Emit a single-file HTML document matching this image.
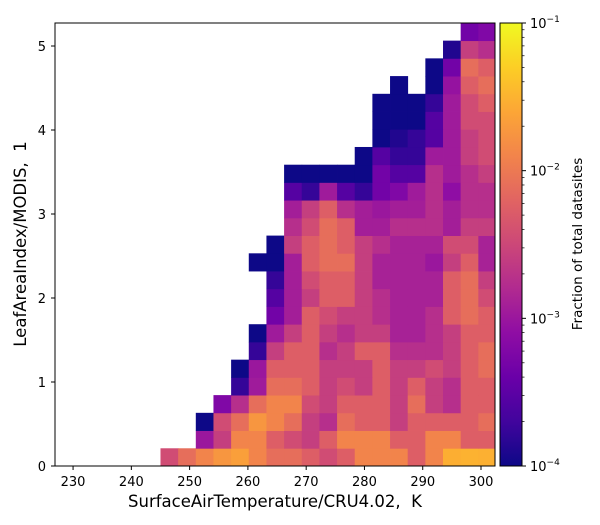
<!DOCTYPE html>
<html><head><meta charset="utf-8"><style>
html,body{margin:0;padding:0;background:#fff;}
svg{display:block;font-family:"DejaVu Sans","Liberation Sans",sans-serif;}
</style></head><body>
<svg id="chart" width="600" height="525" viewBox="0 0 600 525" xmlns="http://www.w3.org/2000/svg">
<defs>
<linearGradient id="plasma" x1="0" y1="1" x2="0" y2="0">
<stop offset="0" stop-color="#0d0887"/><stop offset="0.1" stop-color="#41049d"/><stop offset="0.2" stop-color="#6a00a8"/><stop offset="0.3" stop-color="#8f0da4"/><stop offset="0.4" stop-color="#b12a90"/><stop offset="0.5" stop-color="#cc4778"/><stop offset="0.6" stop-color="#e16462"/><stop offset="0.7" stop-color="#f2844b"/><stop offset="0.8" stop-color="#fca636"/><stop offset="0.9" stop-color="#fcce25"/><stop offset="1" stop-color="#f0f921"/>
</linearGradient>
<clipPath id="plotclip"><rect x="55" y="23" width="440" height="443"/></clipPath>
</defs>
<g id="cells" clip-path="url(#plotclip)"></g>
<rect x="55" y="23" width="440" height="443" fill="none" stroke="#000" stroke-width="1"/>
<g id="xticks"></g>
<g id="yticks"></g>
<text x="275" y="507" font-size="16.5" text-anchor="middle" xml:space="preserve">SurfaceAirTemperature/CRU4.02,  K</text>
<text transform="translate(26,244) rotate(-90)" font-size="16.5" text-anchor="middle" xml:space="preserve">LeafAreaIndex/MODIS,  1</text>
<rect x="500" y="23" width="22" height="443" fill="url(#plasma)" stroke="#000" stroke-width="1"/>
<g id="cbticks"></g>
<text transform="translate(582,244) rotate(-90)" font-size="13.5" text-anchor="middle">Fraction of total datasites</text>
</svg>
<script>
const xTickValues = [230, 240, 250, 260, 270, 280, 290, 300];
const yTickValues = [0, 1, 2, 3, 4, 5];
const cbarExponents = [-4, -3, -2, -1];
const xBinStart = 245;
const xBinWidth = 3.03;
const yBinWidth = 0.211;
const _ = null;
// Fraction of total datasites, rows from LAI bin 0 (bottom) upward, cols from 245 K
const row0  = [0.0036,0.0078,0.0126,0.018,0.022,0.0126,0.0078,0.0078,0.0055,0.0036,0.0055,0.0126,0.0126,0.0126,0.0055,0.0126,0.029,0.031,0.03];
const row1  = [_,_,0.001,0.0026,0.0126,0.0126,0.0055,0.0036,0.0026,0.0055,0.0126,0.0126,0.0126,0.0055,0.0055,0.0126,0.0126,0.0055,0.0055];
const row2  = [_,_,0.0001,0.0036,0.0078,0.018,0.0126,0.0078,0.0026,0.0018,0.0078,0.0055,0.0055,0.0026,0.0055,0.0055,0.0055,0.0055,0.0078];
const row3  = [_,_,_,0.0006,0.0018,0.0078,0.0126,0.0126,0.0036,0.0026,0.0055,0.0055,0.0055,0.0026,0.0078,0.0026,0.0018,0.0055,0.0055];
const row4  = [_,_,_,_,0.00017,0.0011,0.0078,0.0078,0.0055,0.0026,0.0036,0.0026,0.0055,0.0026,0.0055,0.0026,0.0018,0.0055,0.0055];
const row5  = [_,_,_,_,0.0001,0.001,0.0055,0.0055,0.0055,0.0026,0.0026,0.0026,0.0055,0.0026,0.0026,0.0036,0.0026,0.0055,0.0078];
const row6  = [_,_,_,_,_,0.00017,0.0026,0.0055,0.0055,0.0018,0.0026,0.0055,0.0055,0.0018,0.0018,0.0018,0.0026,0.0055,0.0078];
const row7  = [_,_,_,_,_,0.0001,0.0011,0.0026,0.0055,0.0026,0.0018,0.0026,0.0026,0.0013,0.0013,0.0018,0.0026,0.0055,0.0055];
const row8  = [_,_,_,_,_,_,0.00046,0.0012,0.0055,0.0036,0.0026,0.0026,0.0018,0.0013,0.0013,0.0018,0.0055,0.0078,0.0055];
const row9  = [_,_,_,_,_,_,0.00028,0.0012,0.0026,0.0055,0.0055,0.0026,0.0018,0.0013,0.0013,0.0013,0.0055,0.0078,0.0036];
const row10 = [_,_,_,_,_,_,0.00017,0.0012,0.0036,0.0055,0.0055,0.0026,0.0013,0.0013,0.0013,0.0013,0.0055,0.0078,0.0026];
const row11 = [_,_,_,_,_,0.0001,0.0001,0.0012,0.0055,0.0078,0.0078,0.0026,0.0013,0.0013,0.0013,0.001,0.0026,0.0055,0.0013];
const row12 = [_,_,_,_,_,_,0.0001,0.0026,0.0055,0.0078,0.0055,0.0026,0.0018,0.0013,0.0013,0.0013,0.0036,0.0036,0.0013];
const row13 = [_,_,_,_,_,_,_,0.0018,0.0036,0.0078,0.0055,0.0012,0.0012,0.0018,0.0018,0.0018,0.0012,0.0026,0.0026];
const row14 = [_,_,_,_,_,_,_,0.0012,0.0026,0.0055,0.0018,0.0012,0.001,0.0012,0.0012,0.0018,0.0012,0.0018,0.0018];
const row15 = [_,_,_,_,_,_,_,0.00028,0.00017,0.0011,0.00028,0.00017,0.00046,0.0006,0.0011,0.0018,0.0008,0.0018,0.0018];
const row16 = [_,_,_,_,_,_,_,0.0001,0.0001,0.0001,0.0001,0.0001,0.00046,0.00028,0.00028,0.0018,0.0011,0.0018,0.0026];
const row17 = [_,_,_,_,_,_,_,_,_,_,_,0.0001,0.00028,0.00017,0.00017,0.0011,0.0011,0.0026,0.0036];
const row18 = [_,_,_,_,_,_,_,_,_,_,_,_,0.0001,0.00013,0.00017,0.00028,0.0011,0.0026,0.0036];
const row19 = [_,_,_,_,_,_,_,_,_,_,_,_,0.0001,0.0001,0.0001,0.00028,0.0011,0.0036,0.0036];
const row20 = [_,_,_,_,_,_,_,_,_,_,_,_,0.0001,0.0001,0.0001,0.00017,0.0011,0.0036,0.0055];
const row21 = [_,_,_,_,_,_,_,_,_,_,_,_,_,0.0001,_,0.0001,0.0009,0.0055,0.0078];
const row22 = [_,_,_,_,_,_,_,_,_,_,_,_,_,_,_,0.0001,0.00046,0.0078,0.0055];
const row23 = [_,_,_,_,_,_,_,_,_,_,_,_,_,_,_,_,0.00013,0.0026,0.0018];
const row24 = [_,_,_,_,_,_,_,_,_,_,_,_,_,_,_,_,_,0.00046,0.0006];
const rows = [row0,row1,row2,row3,row4,row5,row6,row7,row8,row9,row10,row11,row12,row13,row14,row15,row16,row17,row18,row19,row20,row21,row22,row23,row24];

const NS = "http://www.w3.org/2000/svg";
const X0 = 55, X1 = 495, Y0 = 466, Y1 = 23;
const xmin = 226.9, xmax = 302.4, ymin = 0, ymax = 5.274;
function xs(v){ return X0 + (v - xmin) / (xmax - xmin) * (X1 - X0); }
function ys(v){ return Y0 - (v - ymin) / (ymax - ymin) * (Y0 - Y1); }
function cs(e){ return Y0 - (e + 4) / 3 * (Y0 - Y1); }
const stops = ["#0d0887","#41049d","#6a00a8","#8f0da4","#b12a90","#cc4778","#e16462","#f2844b","#fca636","#fcce25","#f0f921"];
function hex(h){ return [1,3,5].map(i=>parseInt(h.substr(i,2),16)); }
function plasma(t){
  t = Math.max(0, Math.min(1, t));
  const p = t * 10, i = Math.min(9, Math.floor(p)), f = p - i;
  const a = hex(stops[i]), b = hex(stops[i+1]);
  return "rgb(" + a.map((c,k)=>Math.round(c + (b[k]-c)*f)).join(",") + ")";
}
const cells = document.getElementById("cells");
rows.forEach((row, j) => {
  row.forEach((val, i) => {
    if (val === null) return;
    const xa = xs(xBinStart + i * xBinWidth), xb = xs(xBinStart + (i+1) * xBinWidth);
    const ya = ys(j * yBinWidth), yb = ys((j+1) * yBinWidth);
    const r = document.createElementNS(NS, "rect");
    r.setAttribute("x", xa); r.setAttribute("y", yb);
    r.setAttribute("width", xb - xa + 0.4); r.setAttribute("height", ya - yb + 0.4);
    r.setAttribute("fill", plasma((Math.log10(val) + 4) / 3));
    
    
    cells.appendChild(r);
  });
});
const xt = document.getElementById("xticks");
xTickValues.forEach(v => {
  const x = xs(v);
  const l = document.createElementNS(NS, "line");
  l.setAttribute("x1", x); l.setAttribute("x2", x); l.setAttribute("y1", Y0); l.setAttribute("y2", Y0 + 4);
  l.setAttribute("stroke", "#000");
  
  
  xt.appendChild(l);
  const t = document.createElementNS(NS, "text");
  t.setAttribute("x", x); t.setAttribute("y", 486); t.setAttribute("font-size", "13"); t.setAttribute("text-anchor", "middle");
  t.textContent = v;
  
  
  xt.appendChild(t);
});
const yt = document.getElementById("yticks");
yTickValues.forEach(v => {
  const y = ys(v);
  const l = document.createElementNS(NS, "line");
  l.setAttribute("x1", X0 - 4); l.setAttribute("x2", X0); l.setAttribute("y1", y); l.setAttribute("y2", y);
  l.setAttribute("stroke", "#000");
  
  
  yt.appendChild(l);
  const t = document.createElementNS(NS, "text");
  t.setAttribute("x", 46); t.setAttribute("y", y + 5); t.setAttribute("font-size", "13"); t.setAttribute("text-anchor", "end");
  t.textContent = v;
  
  
  yt.appendChild(t);
});
const cb = document.getElementById("cbticks");
cbarExponents.forEach(e => {
  const y = cs(e);
  const l = document.createElementNS(NS, "line");
  l.setAttribute("x1", 522); l.setAttribute("x2", 526); l.setAttribute("y1", y); l.setAttribute("y2", y);
  l.setAttribute("stroke", "#000");
  
  
  cb.appendChild(l);
  const t = document.createElementNS(NS, "text");
  t.setAttribute("x", 530); t.setAttribute("y", y + 5); t.setAttribute("font-size", "13");
  t.innerHTML = '10<tspan dy="-6" font-size="9">\u2212' + (-e) + '</tspan>';
  
  
  cb.appendChild(t);
  if (e < -1) {
    for (let m = 2; m <= 9; m++) {
      const ym = cs(e + Math.log10(m));
      const ml = document.createElementNS(NS, "line");
      ml.setAttribute("x1", 522); ml.setAttribute("x2", 524.5); ml.setAttribute("y1", ym); ml.setAttribute("y2", ym);
      ml.setAttribute("stroke", "#000"); ml.setAttribute("stroke-width", "0.7");
      
      
      cb.appendChild(ml);
    }
  }
});
</script>
</body></html>
